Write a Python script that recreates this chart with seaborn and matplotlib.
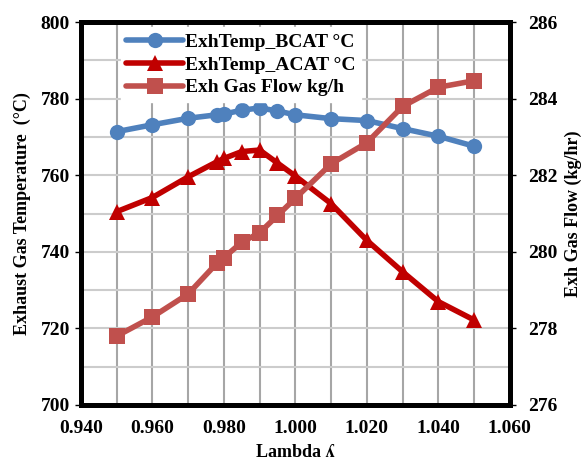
import matplotlib
matplotlib.use("Agg")
import matplotlib.pyplot as plt
import seaborn as sns
import pandas as pd
import numpy as np
from matplotlib.ticker import MultipleLocator, FormatStrFormatter

lam = [0.950, 0.960, 0.970, 0.978, 0.980, 0.985, 0.990, 0.995, 1.000, 1.010, 1.020, 1.030, 1.040, 1.050]
bcat = [771.4, 773.2, 774.9, 775.8, 776.0, 777.0, 777.6, 776.8, 775.8, 774.8, 774.3, 772.2, 770.2, 767.6]
acat = [750.5, 754.2, 759.6, 763.5, 764.4, 766.2, 766.6, 763.2, 759.8, 752.6, 743.0, 734.8, 727.0, 722.2]
flow = [277.8, 278.3, 278.9, 279.7, 279.85, 280.25, 280.5, 280.95, 281.4, 282.3, 282.85, 283.8, 284.3, 284.47]

labels = ["ExhTemp_BCAT °C", "ExhTemp_ACAT °C", "Exh Gas Flow kg/h"]
colors = ["#4F81BD", "#C00000", "#C0504D"]

df = pd.DataFrame({"lam": lam, "bcat": bcat, "acat": acat, "flow": flow})

sns.set_style("white")
plt.rcParams['font.family'] = ['Liberation Serif', 'DejaVu Serif']
plt.rcParams['font.weight'] = 'bold'
plt.rcParams['text.color'] = 'black'
plt.rcParams['axes.labelcolor'] = 'black'
plt.rcParams['xtick.color'] = 'black'
plt.rcParams['ytick.color'] = 'black'

fig = plt.figure(figsize=(5.82, 4.62), dpi=100)
ax = fig.add_axes([0.139, 0.1234, 0.737, 0.8286])
ax2 = ax.twinx()

sns.lineplot(data=df, x="lam", y="bcat", ax=ax, color=colors[0], marker="o", markersize=11,
             linewidth=4, markeredgewidth=0, label=labels[0], legend=False)
sns.lineplot(data=df, x="lam", y="acat", ax=ax, color=colors[1], marker="^", markersize=12,
             linewidth=4, markeredgewidth=0, label=labels[1], legend=False)
sns.lineplot(data=df, x="lam", y="flow", ax=ax2, color=colors[2], marker="s", markersize=11,
             linewidth=4, markeredgewidth=0, label=labels[2], legend=False)

ax.set_xlim(0.94, 1.06)
ax.set_ylim(700, 800)
ax2.set_ylim(276, 286)

ax.xaxis.set_major_locator(MultipleLocator(0.02))
ax.xaxis.set_minor_locator(MultipleLocator(0.01))
ax.xaxis.set_major_formatter(FormatStrFormatter("%.3f"))
ax.yaxis.set_major_locator(MultipleLocator(20))
ax.yaxis.set_minor_locator(MultipleLocator(10))
ax2.yaxis.set_major_locator(MultipleLocator(2))

ax.grid(True, which="both", axis="x", color="#a6a6a6", linewidth=1.5)
ax.grid(True, which="both", axis="y", color="#cccccc", linewidth=1.5)
ax.set_axisbelow(True)
ax2.grid(False)

for a in (ax, ax2):
    for s in a.spines.values():
        s.set_linewidth(3.5)
        s.set_color("black")

ax.tick_params(axis="y", which="major", labelsize=14, length=4, width=1, direction="out",
               left=True, pad=4)
ax.tick_params(axis="x", which="major", labelsize=14, length=0, bottom=False, pad=11)
ax.tick_params(axis="both", which="minor", length=0)
ax2.tick_params(axis="y", which="major", labelsize=14, length=4, width=1, direction="out",
                right=True, pad=9)
for t in ax.get_xticklabels() + ax.get_yticklabels() + ax2.get_yticklabels():
    t.set_fontweight("bold")

ax.set_xlabel("Lambda ʎ", fontsize=13, fontweight="bold", labelpad=5)
ax.set_ylabel("Exhaust Gas Temperature  (°C)", fontsize=13, fontweight="bold", labelpad=7)
ax2.set_ylabel("Exh Gas Flow (kg/hr)", fontsize=13, fontweight="bold", labelpad=5)

h1, l1 = ax.get_legend_handles_labels()
h2, l2 = ax2.get_legend_handles_labels()
leg = ax2.legend(h1 + h2, l1 + l2, loc="upper left", bbox_to_anchor=(0.07, 1.012),
                 frameon=True, framealpha=1, facecolor="white", edgecolor="white", fancybox=False,
                 prop={"weight": "bold", "size": 14}, handlelength=2.9, labelspacing=0.27,
                 handletextpad=0.1, borderpad=0.3)

fig.savefig("out.png", dpi=100)
